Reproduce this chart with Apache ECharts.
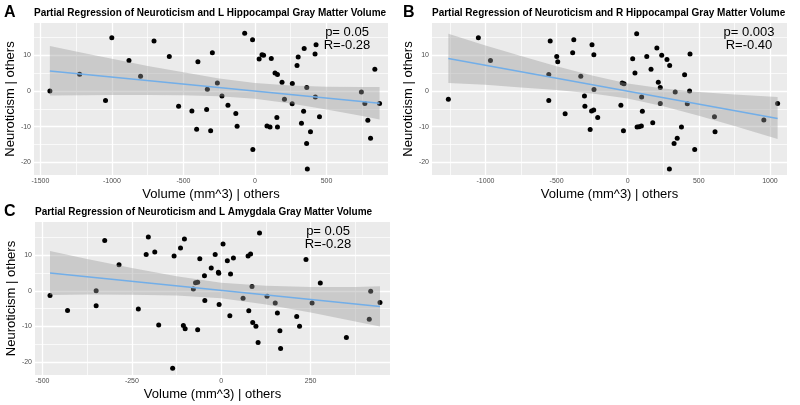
<!DOCTYPE html>
<html><head><meta charset="utf-8">
<script src="https://cdn.jsdelivr.net/npm/echarts@6/dist/echarts.min.js"></script>
<style>html,body{margin:0;padding:0;background:#fff}#c{width:800px;height:405px}</style>
</head><body><div id="c"></div>
<script>
// ---------- Panel A: L Hippocampal ----------
const aVolume = [-1434,-1226,-1045,-1001,-881,-800,-706,-599,-534,-441,-408,-399,-338,-333,-310,-298,-263,-231,-189,-134,-125,-72,-17,-15,29,49,60,84,105,114,140,157,153,157,189,206,261,260,294,302,325,340,344,362,361,366,388,420,422,427,451,744,768,789,808,838,871];
const aNeuro = [0,4.7,-2.7,14.9,8.5,4.1,14.0,9.6,-4.3,-5.6,-10.7,8.2,-5.2,0.5,-11.1,10.7,2.2,-1.4,-4.0,-6.3,-9.9,16.1,14.3,-16.4,8.9,10.1,10.0,-9.8,-10.1,9.1,5.0,4.6,-7.4,-10.1,2.4,-2.3,2.1,-3.6,7.1,9.5,-9.0,-5.7,11.9,1.0,-14.7,-21.8,-11.4,10.3,-1.7,12.9,-7.2,-0.3,-3.5,-8.2,-13.2,6.1,-3.5];
const aFitX = [-1434, 871];
const aFitY = [5.6, -3.45];
const aBandX = [-1434,-1200,-1000,-750,-500,-250,0,250,500,750,871];
const aBandUpper = [12.6,10.6,9.0,7.0,5.2,3.5,2.2,1.5,1.2,1.1,1.1];
const aBandLower = [-1.3,-1.2,-1.1,-1.1,-1.2,-1.5,-2.2,-3.5,-5.2,-7.0,-8.0];

// ---------- Panel B: R Hippocampal ----------
const bVolume = [-1261,-1050,-965,-555,-555,-545,-499,-492,-440,-387,-379,-330,-304,-301,-264,-254,-251,-239,-238,-237,-211,-48,-39,-26,-30,63,35,51,66,80,96,98,103,134,164,176,205,215,229,229,239,276,295,293,326,334,348,378,400,419,435,438,471,610,614,957,1054];
const bNeuro = [-2.3,14.9,8.5,4.6,-2.7,14.0,9.6,8.2,-6.4,10.7,14.3,4.1,-1.4,-4.3,-10.8,-5.6,12.9,-5.3,10.1,0.4,-7.4,-4.0,2.2,2.0,-11.1,16.0,9.0,5.0,-10.1,-10.0,-9.8,-1.7,-5.7,9.6,6.1,-8.9,12.0,2.4,1.0,-3.5,10.0,8.8,7.1,-21.8,-14.7,-0.3,-13.2,-10.1,4.5,-3.6,0.0,10.3,-16.4,-7.2,-11.4,-8.1,-3.5];
const bFitX = [-1261, 1054];
const bFitY = [9.05, -7.7];
const bBandX = [-1261,-1000,-750,-500,-250,0,250,500,750,1054];
const bBandUpper = [16.0,12.7,9.8,6.9,4.3,2.1,0.7,-0.3,-1.0,-1.7];
const bBandLower = [2.2,1.7,1.0,0.3,-0.7,-2.1,-4.3,-6.9,-9.8,-13.4];

// ---------- Panel C: L Amygdala ----------
const cVolume = [-479,-430,-350,-350,-326,-286,-232,-210,-204,-186,-175,-136,-132,-114,-106,-103,-101,-78,-72,-66,-66,-60,-46,-47,-28,-17,-8,-7,-6,5,17,24,26,34,61,75,77,82,86,88,97,103,107,128,151,157,164,166,211,219,237,254,277,350,414,418,444];
const cNeuro = [-1.3,-5.5,0.0,-4.2,14.1,7.3,-5.1,10.2,15.1,10.9,-9.6,-21.7,9.8,12.0,-9.7,14.5,-10.6,0.5,2.3,2.4,-10.9,9.0,-2.7,4.2,6.4,10.2,5.2,4.9,-3.8,13.1,8.4,-7.0,4.7,9.2,-2.1,9.8,-5.6,10.3,1.2,-8.9,-9.9,-14.5,16.2,-1.5,-3.4,-6.2,-11.2,-16.2,-7.2,-9.9,8.8,-3.4,2.2,-13.1,-8.0,-0.1,-3.3];
const cFitX = [-479, 444];
const cFitY = [5.0, -4.4];
const cBandX = [-479,-375,-250,-125,0,125,250,375,444];
const cBandUpper = [11.2,8.9,6.4,4.1,2.3,1.4,1.1,1.1,1.3];
const cBandLower = [-1.2,-1.0,-1.1,-1.3,-2.1,-3.8,-6.1,-8.6,-10.0];

// ---------- ticks & texts ----------
const aXTicks = [-1500,-1000,-500,0,500];
const aXMinor = [-1250,-750,-250,250,750];
const bXTicks = [-1000,-500,0,500,1000];
const bXMinor = [-1250,-750,-250,250,750];
const cXTicks = [-500,-250,0,250];
const cXMinor = [-375,-125,125,375];
const yTicks = [-20,-10,0,10];
const yMinor = [-15,-5,5,15];
const panelLetters = ['A','B','C'];
const panelTitles = [
  'Partial Regression of Neuroticism and L Hippocampal Gray Matter Volume',
  'Partial Regression of Neuroticism and R Hippocampal Gray Matter Volume',
  'Partial Regression of Neuroticism and L Amygdala Gray Matter Volume'
];
const pTexts = ['p= 0.05','p= 0.003','p= 0.05'];
const rTexts = ['R=-0.28','R=-0.40','R=-0.28'];
const xTitle = 'Volume (mm^3) | others';
const yTitle = 'Neuroticism | others';

const FONT = 'Liberation Sans, Arial, sans-serif';
const panels = [
  {vol:aVolume, neu:aNeuro, fx:aFitX, fy:aFitY, bx:aBandX, bu:aBandUpper, bl:aBandLower, xt:aXTicks, xm:aXMinor,
   grid:{left:34, top:23, width:354, height:152}, xr:[-1545, 930], yr:[-23.5, 19.0],
   letter:[4,5], title:[34,8], ann:[347,32]},
  {vol:bVolume, neu:bNeuro, fx:bFitX, fy:bFitY, bx:bBandX, bu:bBandUpper, bl:bBandLower, xt:bXTicks, xm:bXMinor,
   grid:{left:432, top:23, width:355, height:152}, xr:[-1376, 1120], yr:[-23.5, 19.0],
   letter:[403,5], title:[432,8], ann:[749,32]},
  {vol:cVolume, neu:cNeuro, fx:cFitX, fy:cFitY, bx:cBandX, bu:cBandUpper, bl:cBandLower, xt:cXTicks, xm:cXMinor,
   grid:{left:35, top:222, width:355, height:153}, xr:[-521, 472], yr:[-23.6, 19.3],
   letter:[4,204], title:[35,207], ann:[328,231.5]}
];

const grids=[], xAxes=[], yAxes=[], series=[], titles=[], graphics=[];
const plain = v => String(v);
panels.forEach((p, i) => {
  grids.push(Object.assign({show:true, backgroundColor:'#EBEBEB', borderWidth:0, z:0}, p.grid));
  xAxes.push({type:'value', gridIndex:i, min:p.xr[0], max:p.xr[1], position:'bottom',
    name:xTitle, nameLocation:'middle', nameGap:13,
    nameTextStyle:{fontFamily:FONT, fontSize:13, color:'#000'},
    axisLine:{show:false},
    axisTick:{show:true, length:2, customValues:p.xt, lineStyle:{color:'#333', width:0.8}},
    axisLabel:{customValues:p.xt, formatter:plain, fontFamily:FONT, fontSize:7, color:'#4D4D4D', margin:3},
    splitLine:{show:false}});
  yAxes.push({type:'value', gridIndex:i, min:p.yr[0], max:p.yr[1], position:'left',
    name:yTitle, nameLocation:'middle', nameGap:15,
    nameTextStyle:{fontFamily:FONT, fontSize:13, color:'#000'},
    axisLine:{show:false},
    axisTick:{show:true, length:2, customValues:yTicks, lineStyle:{color:'#333', width:0.8}},
    axisLabel:{customValues:yTicks, formatter:plain, fontFamily:FONT, fontSize:7, color:'#4D4D4D', margin:3},
    splitLine:{show:false}});

  // grid lines (major + minor) placed through the axes' own scales
  const gl = [];
  p.xm.forEach(v => gl.push({xAxis:v, lineStyle:{color:'#FFFFFF', width:0.7, type:'solid'}}));
  yMinor.forEach(v => gl.push({yAxis:v, lineStyle:{color:'#FFFFFF', width:0.7, type:'solid'}}));
  p.xt.forEach(v => gl.push({xAxis:v, lineStyle:{color:'#FFFFFF', width:1.3, type:'solid'}}));
  yTicks.forEach(v => gl.push({yAxis:v, lineStyle:{color:'#FFFFFF', width:1.3, type:'solid'}}));
  series.push({type:'line', xAxisIndex:i, yAxisIndex:i, z:1, silent:true, data:[],
    markLine:{z:1, silent:true, symbol:['none','none'], animation:false, label:{show:false},
      emphasis:{disabled:true}, data:gl}});

  series.push({type:'scatter', xAxisIndex:i, yAxisIndex:i, symbolSize:5,
    itemStyle:{color:'#000', opacity:1}, z:2, silent:true,
    data:p.vol.map((v,k)=>[v, p.neu[k]])});
  series.push({type:'custom', xAxisIndex:i, yAxisIndex:i, z:3, silent:true,
    data:[[p.bx[0], p.bu[0]]],
    renderItem:(params, api) => {
      const pts = [];
      for (let k=0;k<p.bx.length;k++) pts.push(api.coord([p.bx[k], p.bu[k]]));
      for (let k=p.bx.length-1;k>=0;k--) pts.push(api.coord([p.bx[k], p.bl[k]]));
      return {type:'polygon', shape:{points:pts}, style:{fill:'rgba(153,153,153,0.4)'}};
    }});
  series.push({type:'line', xAxisIndex:i, yAxisIndex:i, z:4, silent:true,
    showSymbol:false, lineStyle:{color:'#72AEE8', width:1.6},
    data:p.fx.map((v,k)=>[v, p.fy[k]])});

  titles.push({text:panelLetters[i], left:p.letter[0], top:p.letter[1], padding:0,
    textStyle:{fontFamily:FONT, fontSize:16, fontWeight:'bold', color:'#000'}});
  titles.push({text:panelTitles[i], left:p.title[0], top:p.title[1], padding:0,
    textStyle:{fontFamily:FONT, fontSize:10, fontWeight:'bold', color:'#000'}});
  graphics.push({type:'text', x:p.ann[0], y:p.ann[1], z:10,
    style:{text:pTexts[i], fontFamily:FONT, fontSize:13, fill:'#000', textAlign:'center', textVerticalAlign:'middle'}});
  graphics.push({type:'text', x:p.ann[0], y:p.ann[1]+13, z:10,
    style:{text:rTexts[i], fontFamily:FONT, fontSize:13, fill:'#000', textAlign:'center', textVerticalAlign:'middle'}});
});

const chart = echarts.init(document.getElementById('c'), null, {renderer:'canvas'});
chart.setOption({
  animation:false, backgroundColor:'#fff',
  title:titles, grid:grids, xAxis:xAxes, yAxis:yAxes, series:series, graphic:graphics
});
</script></body></html>
